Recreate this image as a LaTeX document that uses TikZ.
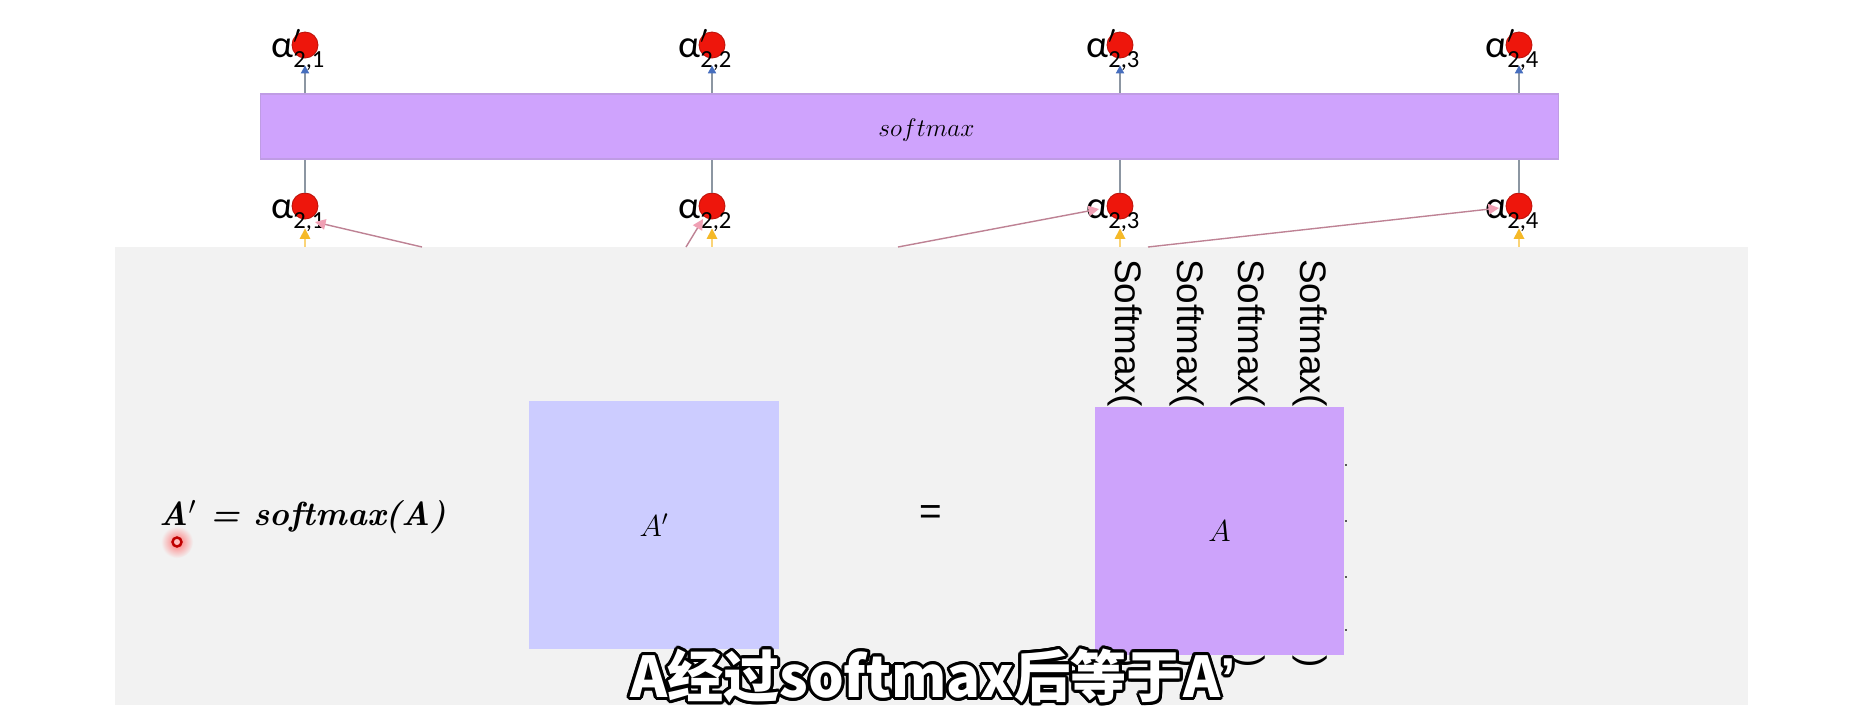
\documentclass[tikz,border=0pt]{standalone}
\usepackage{fontspec}
\usetikzlibrary{arrows.meta,positioning,calc}

\newfontfamily\lblfont{Carlito}
\newfontfamily\arialfont{Liberation Sans}
\newfontfamily\cjk{Noto Sans CJK SC}

\definecolor{barpurple}{RGB}{207,163,253}
\definecolor{matpurple}{RGB}{205,163,251}
\definecolor{matblue}{RGB}{204,204,255}
\definecolor{panelgray}{RGB}{242,242,242}
\definecolor{dotred}{RGB}{238,22,12}
\definecolor{linegray}{RGB}{140,150,162}
\definecolor{tipblue}{RGB}{70,110,190}
\definecolor{lineyellow}{RGB}{250,212,120}
\definecolor{tipyellow}{RGB}{245,185,40}
\definecolor{linepink}{RGB}{190,130,148}
\definecolor{tippink}{RGB}{240,160,180}

% alpha label: prime (or nothing) and column index
\newcommand{\alab}[2]{\lblfont\fontsize{22}{22}\selectfont α\rlap{#1}\fontsize{14}{14}\selectfont\raisebox{-6pt}{2,#2}}
\newcommand{\subtext}{A经过softmax后等于A{\arialfont’}}

\begin{document}
\begin{tikzpicture}[x=0.02cm, y=-0.02cm,
	panel/.style={rectangle, fill=panelgray, minimum width=32.66cm, minimum height=9.16cm, inner sep=0pt},
	bar/.style={rectangle, fill=barpurple, draw=barpurple!80!gray, line width=0.6pt, minimum width=25.98cm, minimum height=1.3cm, inner sep=0pt},
	mat/.style={rectangle, minimum width=5cm, minimum height=4.96cm, inner sep=0pt, font=\fontsize{18}{18}\selectfont},
	dot/.style={circle, fill=dotred, draw=dotred!80!black, line width=0.5pt, minimum size=0.52cm, inner sep=0pt},
	lbl/.style={anchor=base west, inner sep=0pt},
	formula/.style={inner sep=0pt, font=\fontsize{19}{19}\selectfont\bfseries\itshape},
	eqsign/.style={inner sep=0pt, font=\arialfont\fontsize{22}{22}\selectfont},
	rot/.style={rotate=-90, inner sep=0pt, font=\arialfont\fontsize{21}{21}\selectfont},
	sub/.style={inner sep=0pt, font=\cjk\bfseries\fontsize{32}{32}\selectfont},
	grayline/.style={draw=linegray, line width=1.1pt},
	blueup/.style={grayline, -{Triangle[color=tipblue, length=4.5pt, width=4.5pt]}},
	yellowup/.style={draw=lineyellow, line width=0.9pt, -{Triangle[color=tipyellow, length=6pt, width=6pt]}},
	pinkto/.style={draw=linepink, line width=0.8pt, -{Triangle[color=tippink, length=6pt, width=6pt]}}]

	\useasboundingbox (0,0) rectangle (1865,708);
	\fill[white] (0,0) rectangle (1865,708);

	% Nodes
	\node[panel] (panel) at (931.5,476) {};
	\node[bar, label={[font=\fontsize{15}{15}\selectfont, xshift=0.34cm, yshift=-0.08cm]center:$softmax$}] (bar) at (909.5,126.5) {};
	\node[formula] (eqn) at (303,517) {A$^{\prime}$ = softmax(A)};
	\node[eqsign] (eq) at (931,515) {=};
	\node[mat, fill=matblue] (Ap) at (654,525) {$A^{\prime}$};

	\foreach \j/\px in {1/305, 2/712, 3/1120, 4/1519}
	{
		\node[dot] (ct\j) at (\px,45) {};
		\node[dot] (cb\j) at (\px,206) {};
		\node[lbl] (lt\j) at ($(ct\j)+(-34,12)$) {\alab{$^{\prime}$}{\j}};
		\node[lbl] (lb\j) at ($(cb\j)+(-34,12)$) {\alab{}{\j}};
	}

	\foreach \k/\cx in {1/1125, 2/1187, 3/1248, 4/1310}
	{
		\node[rot, anchor=east] (sm\k) at (\cx,407) {Softmax(};
		\node[rot, anchor=west] (cp\k) at (\cx,655) {)};
	}

	\node[mat, fill=matpurple] (A) at (1219.5,531) {$A$};

	% small marks on the right edge of A
	\foreach \ty in {465,521,577,630}
		\draw[gray!70!black, line width=0.8pt] (A.east |- 0,\ty) -- ++(2.5,0);

	% laser pointer
	\shade[inner color=red!55, outer color=panelgray] (177,542) circle (16);
	\draw[red!75!black, line width=1.4pt, fill=red!25] (177,542) circle (4.5);

	% Dependencies
	\foreach \j in {1,...,4}
	{
		\draw[blueup] (bar.north -| ct\j) -- ([yshift=-0.14cm]ct\j.south);
		\draw[grayline] (cb\j.north) -- (bar.south -| cb\j);
		\draw[yellowup] (panel.north -| cb\j) -- ([yshift=-0.18cm]cb\j.south);
	}

	\coordinate (pk1) at (422,247);
	\coordinate (pk2) at (686,247);
	\coordinate (pk3) at (898,247);
	\coordinate (pk4) at (1148,247);
	\draw[pinkto] (pk1) -- ($(cb1)+(10,16)$);
	\draw[pinkto] (pk2) -- ($(cb2)+(-9,13)$);
	\draw[pinkto] (pk3) -- ($(cb3)+(-21,3)$);
	\draw[pinkto] (pk4) -- ($(cb4)+(-20,2)$);

	% subtitle with black outline
	\coordinate (subc) at (933,676);
	\foreach \a in {0,22.5,...,337.5}
		\node[sub, text=black] (subo\a) at ($(subc)+(\a:3)$) {\subtext};
	\node[sub, text=white] (subw) at (subc) {\subtext};
\end{tikzpicture}
\end{document}
